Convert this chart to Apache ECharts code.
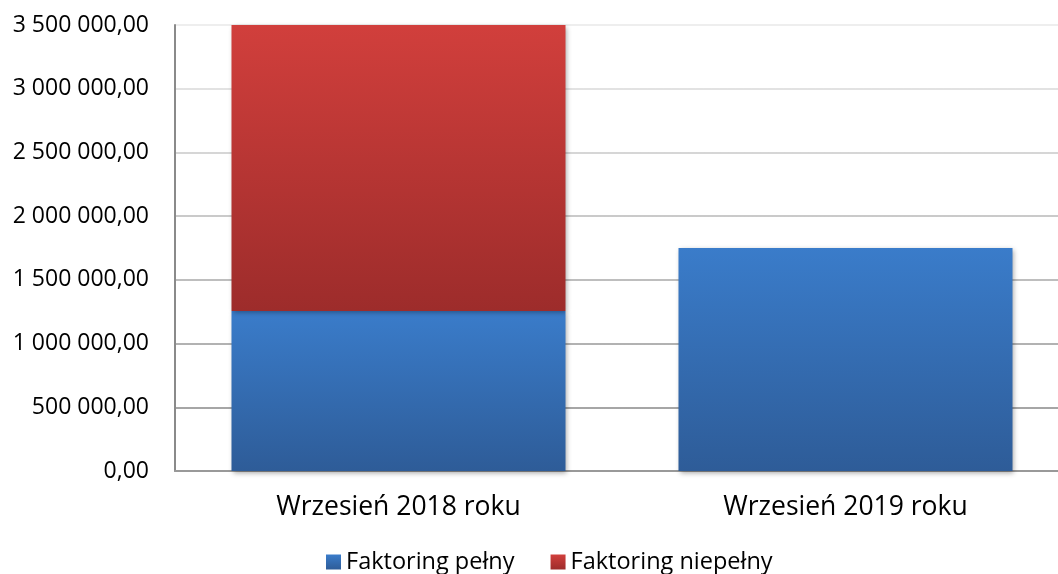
<!DOCTYPE html>
<html><head><meta charset="utf-8">
<script src="https://cdn.jsdelivr.net/npm/echarts@6/dist/echarts.min.js"></script>
<style>html,body{margin:0;padding:0;background:#fff}#c{width:1058px;height:574px}</style>
</head><body><div id="c"></div>
<script>
const categories = ['Wrzesień 2018 roku', 'Wrzesień 2019 roku'];
const seriesNames = ['Faktoring pełny', 'Faktoring niepełny'];
const fullValues = [1255000, 1750000];
const partialValues = [2245000, 0];
const yMin = 0, yMax = 3500000, yInterval = 500000;

function fmt(v) {
  const parts = v.toFixed(2).split('.');
  const int = parts[0].replace(/\B(?=(\d{3})+(?!\d))/g, ' ');
  return int + ',' + parts[1];
}
const G = echarts.graphic.LinearGradient;
const chart = echarts.init(document.getElementById('c'));
const font = '"Open Sans", sans-serif';
chart.setOption({
  animation: false,
  textStyle: { fontFamily: font },
  grid: { left: 175, width: 894, top: 25, height: 446, containLabel: false, outerBoundsMode: 'none' },
  legend: {
    top: 545, left: 321, itemWidth: 15, itemHeight: 15, itemGap: 36,
    icon: 'rect',
    textStyle: { fontSize: 23.5, color: '#000', fontFamily: font },
    data: seriesNames
  },
  xAxis: {
    type: 'category', data: categories,
    axisLine: { lineStyle: { color: '#999', width: 2 } },
    axisTick: { show: false },
    axisLabel: { fontSize: 26.5, color: '#000', margin: 23, fontFamily: font }
  },
  yAxis: {
    type: 'value', min: yMin, max: yMax, interval: yInterval,
    axisLine: { show: true, lineStyle: { color: '#8a8a8a', width: 2 } },
    axisTick: { show: false },
    axisLabel: { fontSize: 23, color: '#000', margin: 26, formatter: fmt, fontFamily: font },
    splitLine: { lineStyle: { width: 2, color: new G(0, 25, 0, 471, [
      { offset: 0, color: '#eeeeee' }, { offset: 1, color: '#9a9a9a' }], true) } }
  },
  series: [
    {
      name: seriesNames[0], type: 'bar', stack: 's', barWidth: 334, data: fullValues,
      itemStyle: {
        color: new G(0, 0, 0, 1, [{ offset: 0, color: '#3a7cca' }, { offset: 1, color: '#2e5c98' }]),
        shadowBlur: 5, shadowColor: 'rgba(0,0,0,0.35)', shadowOffsetX: 1, shadowOffsetY: 2
      }
    },
    {
      name: seriesNames[1], type: 'bar', stack: 's', barWidth: 334, data: partialValues,
      itemStyle: {
        color: new G(0, 0, 0, 1, [{ offset: 0, color: '#d13f3c' }, { offset: 1, color: '#9d2c2b' }]),
        shadowBlur: 5, shadowColor: 'rgba(0,0,0,0.35)', shadowOffsetX: 1, shadowOffsetY: 2
      }
    }
  ]
});
</script></body></html>
